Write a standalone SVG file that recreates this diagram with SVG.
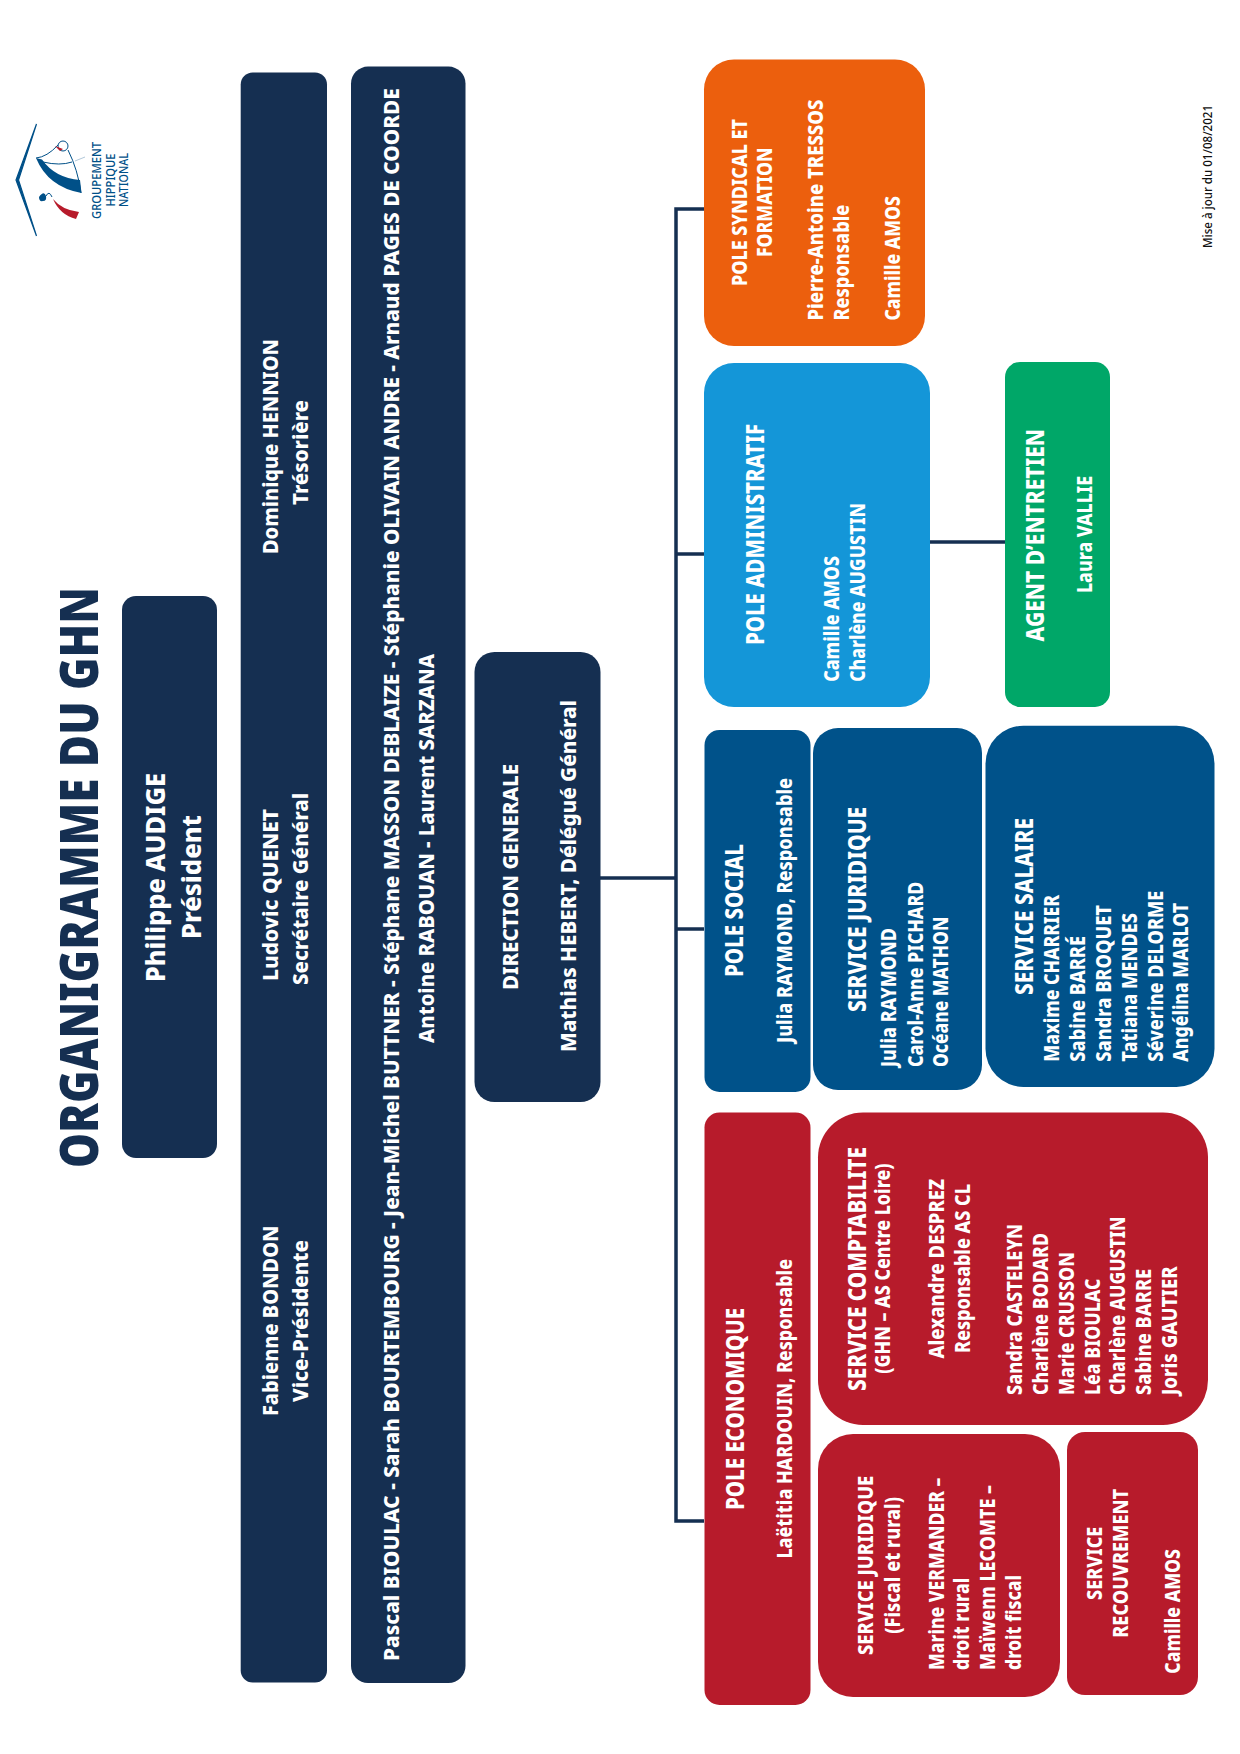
<svg xmlns="http://www.w3.org/2000/svg" width="1240" height="1754" viewBox="0 0 1240 1754">
<style>
text{font-family:"Noto Sans","Open Sans","Liberation Sans",sans-serif;font-weight:800;fill:#fff;font-size:22px}
.h{font-size:24px}
.m{font-size:21.5px}
.l{font-size:27px}
.navy{fill:#152f51}.red{fill:#b71b2b}.blue{fill:#00528a}.sky{fill:#1496d8}.org{fill:#ec5f0d}.grn{fill:#00a768}
.c{fill:none;stroke:#152f51;stroke-width:3.5}
.lg{fill:none;stroke:#005088;stroke-width:1}
.lt{font-weight:500;font-size:12px;fill:#005088}
</style>
<rect width="1240" height="1754" fill="#fff"/>
<g id="connectors">
<path class="c" d="M704 209H676V1521H704"/>
<path class="c" d="M676 554H704"/>
<path class="c" d="M600 878H676"/>
<path class="c" d="M676 929H704"/>
<path class="c" d="M930 542H1005"/>
</g>
<g id="logo">
<path d="M36.5 124L16 180L36.5 236L18.5 180Z" fill="#005088" stroke="#005088" stroke-width="1.2"/>
<path d="M36 158Q47 157 58 145M43 162Q60 166 72 162M68 150Q78 170 81 193" class="lg"/>
<path d="M36 158L42 159.5Q55 178 80 180L81.5 193Q48 187 36 158Z" fill="#005088"/>
<circle cx="63" cy="146" r="5" fill="#fff" class="lg"/>
<path d="M55 146L63 149L60 151Z" fill="#b71b2b"/>
<path d="M75 161L85 157" fill="none" stroke="#9db9cf" stroke-width=".8"/>
<path d="M39 197Q44 190 46 196Q47 201 43 201Q39 202 39 197Z" fill="#005088"/>
<path d="M46 196Q49 190 52 197" class="lg"/>
<path d="M53 199Q62 210 79 212L76 219Q60 215 53 199Z" fill="#b71b2b"/>
<text class="lt" transform="translate(100.5 219) rotate(-90)" textLength="77" lengthAdjust="spacingAndGlyphs">GROUPEMENT</text>
<text class="lt" transform="translate(114.5 206.5) rotate(-90)" textLength="53" lengthAdjust="spacingAndGlyphs">HIPPIQUE</text>
<text class="lt" transform="translate(128 207) rotate(-90)" textLength="54" lengthAdjust="spacingAndGlyphs">NATIONAL</text>
</g>
<g id="title">
<text transform="translate(97.5 1168) rotate(-90)" textLength="581" lengthAdjust="spacingAndGlyphs" style="font-size:53px;font-weight:900;fill:#152f51">ORGANIGRAMME DU GHN</text>
</g>
<g id="date">
<text transform="translate(1212 248) rotate(-90)" textLength="143" lengthAdjust="spacingAndGlyphs" style="font-size:12.5px;font-weight:500;fill:#111">Mise à jour du 01/08/2021</text>
</g>
<g id="president">
<rect class="navy" x="122" y="596" width="95" height="562" rx="14"/>
<text class="l" transform="translate(164.5 982) rotate(-90)" textLength="209" lengthAdjust="spacingAndGlyphs">Philippe AUDIGE</text>
<text class="l" transform="translate(200.5 939) rotate(-90)" textLength="124" lengthAdjust="spacingAndGlyphs">Président</text>
</g>
<g id="bureau">
<rect class="navy" x="240.7" y="72.5" width="86.3" height="1610" rx="12"/>
<text transform="translate(277.5 1416) rotate(-90)" textLength="190.5" lengthAdjust="spacingAndGlyphs">Fabienne BONDON</text>
<text transform="translate(308 1402) rotate(-90)" textLength="162" lengthAdjust="spacingAndGlyphs">Vice-Présidente</text>
<text transform="translate(277.5 981) rotate(-90)" textLength="172" lengthAdjust="spacingAndGlyphs">Ludovic QUENET</text>
<text transform="translate(308 985) rotate(-90)" textLength="192" lengthAdjust="spacingAndGlyphs">Secrétaire Général</text>
<text transform="translate(277.5 554) rotate(-90)" textLength="215" lengthAdjust="spacingAndGlyphs">Dominique HENNION</text>
<text transform="translate(308 505) rotate(-90)" textLength="105" lengthAdjust="spacingAndGlyphs">Trésorière</text>
</g>
<g id="conseil">
<rect class="navy" x="351" y="66.6" width="114.5" height="1616.4" rx="17"/>
<text transform="translate(398.5 1661) rotate(-90) scale(.82 1)" textLength="1918" lengthAdjust="spacingAndGlyphs">Pascal BIOULAC - Sarah BOURTEMBOURG - Jean-Michel BUTTNER - Stéphane MASSON DEBLAIZE - Stéphanie OLIVAIN ANDRE - Arnaud PAGES DE COORDE</text>
<text transform="translate(433.5 1043) rotate(-90)" textLength="389" lengthAdjust="spacingAndGlyphs">Antoine RABOUAN - Laurent SARZANA</text>
</g>
<g id="direction">
<rect class="navy" x="474.5" y="652" width="126" height="450" rx="20"/>
<text transform="translate(517.5 990) rotate(-90)" textLength="226" lengthAdjust="spacingAndGlyphs">DIRECTION GENERALE</text>
<text transform="translate(576 1052) rotate(-90)" textLength="352" lengthAdjust="spacingAndGlyphs">Mathias HEBERT, Délégué Général</text>
</g>
<g id="pole-syndical">
<rect class="org" x="704" y="59.5" width="221" height="286.5" rx="30"/>
<text transform="translate(746.5 286) rotate(-90)" textLength="167" lengthAdjust="spacingAndGlyphs">POLE SYNDICAL ET</text>
<text transform="translate(772 257) rotate(-90)" textLength="109.5" lengthAdjust="spacingAndGlyphs">FORMATION</text>
<text transform="translate(822.5 320.6) rotate(-90)" textLength="221" lengthAdjust="spacingAndGlyphs">Pierre-Antoine TRESSOS</text>
<text transform="translate(848.5 320.6) rotate(-90)" textLength="116" lengthAdjust="spacingAndGlyphs">Responsable</text>
<text transform="translate(900 320.6) rotate(-90)" textLength="124.6" lengthAdjust="spacingAndGlyphs">Camille AMOS</text>
</g>
<g id="pole-administratif">
<rect class="sky" x="704" y="363" width="226" height="344" rx="30"/>
<text class="h" transform="translate(764 645) rotate(-90)" textLength="221" lengthAdjust="spacingAndGlyphs">POLE ADMINISTRATIF</text>
<text transform="translate(838.5 681.8) rotate(-90)" textLength="125.8" lengthAdjust="spacingAndGlyphs">Camille AMOS</text>
<text transform="translate(864.5 681.8) rotate(-90)" textLength="178.8" lengthAdjust="spacingAndGlyphs">Charlène AUGUSTIN</text>
</g>
<g id="agent-entretien">
<rect class="grn" x="1005" y="362" width="105" height="345" rx="15"/>
<text class="h" transform="translate(1043.5 641.5) rotate(-90)" textLength="212.5" lengthAdjust="spacingAndGlyphs">AGENT D’ENTRETIEN</text>
<text transform="translate(1091.5 593) rotate(-90)" textLength="117" lengthAdjust="spacingAndGlyphs">Laura VALLIE</text>
</g>
<g id="pole-social">
<rect class="blue" x="704.5" y="730" width="106" height="362" rx="15"/>
<text class="h" transform="translate(743 977) rotate(-90)" textLength="133" lengthAdjust="spacingAndGlyphs">POLE SOCIAL</text>
<text transform="translate(792 1043) rotate(-90)" textLength="265" lengthAdjust="spacingAndGlyphs">Julia RAYMOND, Responsable</text>
</g>
<g id="service-juridique-social">
<rect class="blue" x="813" y="728" width="169" height="362" rx="25"/>
<text class="h" transform="translate(866 1012) rotate(-90)" textLength="205.3" lengthAdjust="spacingAndGlyphs">SERVICE JURIDIQUE</text>
<text transform="translate(896 1067) rotate(-90)" textLength="139" lengthAdjust="spacingAndGlyphs">Julia RAYMOND</text>
<text transform="translate(922.5 1067) rotate(-90)" textLength="185.3" lengthAdjust="spacingAndGlyphs">Carol-Anne PICHARD</text>
<text transform="translate(948 1067) rotate(-90)" textLength="150.3" lengthAdjust="spacingAndGlyphs">Océane MATHON</text>
</g>
<g id="service-salaire">
<rect class="blue" x="985.5" y="725.7" width="229" height="361.3" rx="38"/>
<text class="h" transform="translate(1032.5 995) rotate(-90)" textLength="177" lengthAdjust="spacingAndGlyphs">SERVICE SALAIRE</text>
<text transform="translate(1059 1061.7) rotate(-90)" textLength="166.7" lengthAdjust="spacingAndGlyphs">Maxime CHARRIER</text>
<text transform="translate(1085 1061.7) rotate(-90)" textLength="125.7" lengthAdjust="spacingAndGlyphs">Sabine BARRÉ</text>
<text transform="translate(1111 1061.7) rotate(-90)" textLength="156.7" lengthAdjust="spacingAndGlyphs">Sandra BROQUET</text>
<text transform="translate(1137 1061.7) rotate(-90)" textLength="148.7" lengthAdjust="spacingAndGlyphs">Tatiana MENDES</text>
<text transform="translate(1162.5 1061.7) rotate(-90)" textLength="171" lengthAdjust="spacingAndGlyphs">Séverine DELORME</text>
<text transform="translate(1188 1061.7) rotate(-90)" textLength="158.7" lengthAdjust="spacingAndGlyphs">Angélina MARLOT</text>
</g>
<g id="pole-economique">
<rect class="red" x="704.5" y="1112.5" width="106" height="592.5" rx="15"/>
<text class="h" transform="translate(743.5 1510) rotate(-90)" textLength="202" lengthAdjust="spacingAndGlyphs">POLE ECONOMIQUE</text>
<text transform="translate(792 1558.6) rotate(-90)" textLength="299.6" lengthAdjust="spacingAndGlyphs">Laëtitia HARDOUIN, Responsable</text>
</g>
<g id="service-comptabilite">
<rect class="red" x="818" y="1112.5" width="390" height="312.5" rx="45"/>
<text class="h" transform="translate(866 1391) rotate(-90)" textLength="244" lengthAdjust="spacingAndGlyphs">SERVICE COMPTABILITE</text>
<text class="m" transform="translate(889.5 1373.7) rotate(-90)" textLength="210.2" lengthAdjust="spacingAndGlyphs">(GHN – AS Centre Loire)</text>
<text transform="translate(944 1358.6) rotate(-90)" textLength="179.6" lengthAdjust="spacingAndGlyphs">Alexandre DESPREZ</text>
<text transform="translate(970 1353) rotate(-90)" textLength="169" lengthAdjust="spacingAndGlyphs">Responsable AS CL</text>
<text transform="translate(1021.5 1395) rotate(-90)" textLength="171" lengthAdjust="spacingAndGlyphs">Sandra CASTELEYN</text>
<text transform="translate(1047.5 1395) rotate(-90)" textLength="162" lengthAdjust="spacingAndGlyphs">Charlène BODARD</text>
<text transform="translate(1073.5 1395) rotate(-90)" textLength="143" lengthAdjust="spacingAndGlyphs">Marie CRUSSON</text>
<text transform="translate(1099.5 1395) rotate(-90)" textLength="116.4" lengthAdjust="spacingAndGlyphs">Léa BIOULAC</text>
<text transform="translate(1125 1395) rotate(-90)" textLength="178.5" lengthAdjust="spacingAndGlyphs">Charlène AUGUSTIN</text>
<text transform="translate(1151 1395) rotate(-90)" textLength="126.2" lengthAdjust="spacingAndGlyphs">Sabine BARRE</text>
<text transform="translate(1176.5 1395) rotate(-90)" textLength="128.7" lengthAdjust="spacingAndGlyphs">Joris GAUTIER</text>
</g>
<g id="service-juridique-eco">
<rect class="red" x="818" y="1434" width="242" height="263" rx="35"/>
<text class="m" transform="translate(873 1655) rotate(-90)" textLength="179.3" lengthAdjust="spacingAndGlyphs">SERVICE JURIDIQUE</text>
<text class="m" transform="translate(899.5 1633.7) rotate(-90)" textLength="136.7" lengthAdjust="spacingAndGlyphs">(Fiscal et rural)</text>
<text transform="translate(943.5 1670) rotate(-90)" textLength="192.2" lengthAdjust="spacingAndGlyphs">Marine VERMANDER –</text>
<text transform="translate(969 1670) rotate(-90)" textLength="92.2" lengthAdjust="spacingAndGlyphs">droit rural</text>
<text transform="translate(995 1670) rotate(-90)" textLength="185" lengthAdjust="spacingAndGlyphs">Maïwenn LECOMTE –</text>
<text transform="translate(1021 1670) rotate(-90)" textLength="95" lengthAdjust="spacingAndGlyphs">droit fiscal</text>
</g>
<g id="service-recouvrement">
<rect class="red" x="1067" y="1432" width="131" height="263" rx="18"/>
<text class="m" transform="translate(1102 1600) rotate(-90)" textLength="73.3" lengthAdjust="spacingAndGlyphs">SERVICE</text>
<text class="m" transform="translate(1127.5 1637.7) rotate(-90)" textLength="148.7" lengthAdjust="spacingAndGlyphs">RECOUVREMENT</text>
<text transform="translate(1179.5 1673.7) rotate(-90)" textLength="124.7" lengthAdjust="spacingAndGlyphs">Camille AMOS</text>
</g>
</svg>
